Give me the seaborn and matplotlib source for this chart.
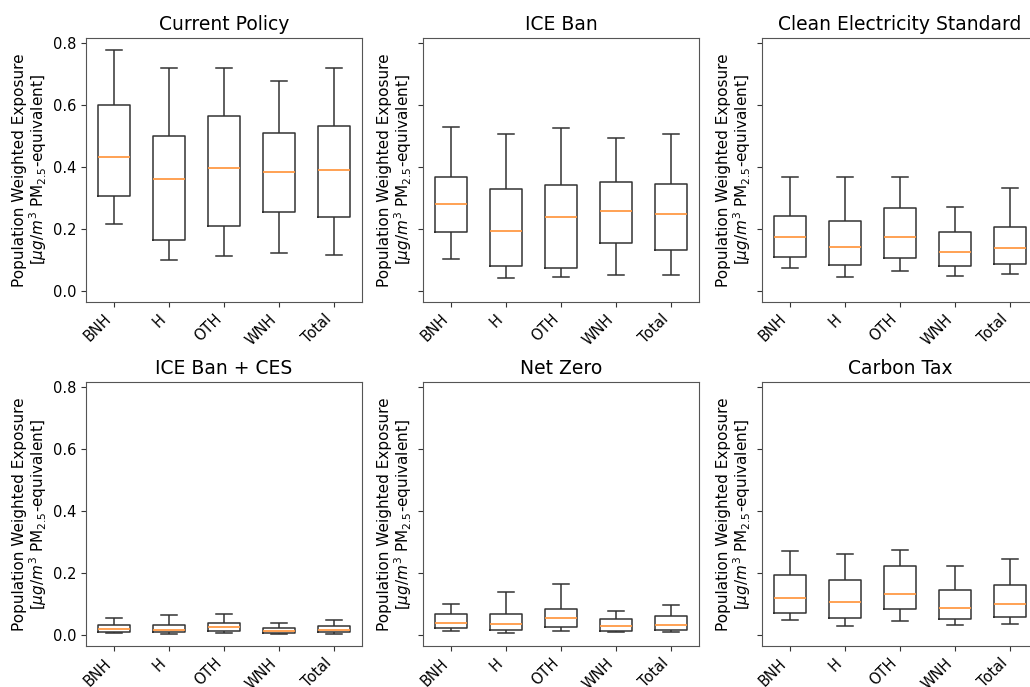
import numpy as np
import pandas as pd
import matplotlib
matplotlib.use("Agg")
import matplotlib.pyplot as plt
import seaborn as sns

# Population-group categories shown on every panel
groups = ["BNH", "H", "OTH", "WNH", "Total"]

# Policy scenarios, in panel order
scenarios = ["Current Policy", "ICE Ban", "Clean Electricity Standard",
             "ICE Ban + CES", "Net Zero", "Carbon Tax"]

# Box summary per scenario: rows follow `groups`, columns are min, q1, median, q3, max
current_policy = [
    [0.214, 0.306, 0.432, 0.600, 0.778],
    [0.100, 0.163, 0.361, 0.500, 0.719],
    [0.112, 0.210, 0.397, 0.565, 0.719],
    [0.122, 0.254, 0.383, 0.510, 0.676],
    [0.117, 0.238, 0.391, 0.532, 0.719],
]
ice_ban = [
    [0.103, 0.190, 0.279, 0.368, 0.529],
    [0.043, 0.080, 0.193, 0.328, 0.507],
    [0.044, 0.075, 0.237, 0.341, 0.524],
    [0.051, 0.155, 0.259, 0.351, 0.492],
    [0.050, 0.132, 0.248, 0.346, 0.507],
]
clean_electricity = [
    [0.074, 0.108, 0.175, 0.241, 0.366],
    [0.044, 0.085, 0.141, 0.226, 0.366],
    [0.063, 0.105, 0.175, 0.267, 0.366],
    [0.049, 0.079, 0.124, 0.191, 0.271],
    [0.054, 0.086, 0.138, 0.207, 0.331],
]
ice_ban_ces = [
    [0.006, 0.010, 0.021, 0.033, 0.055],
    [0.005, 0.010, 0.017, 0.033, 0.065],
    [0.006, 0.012, 0.026, 0.040, 0.067],
    [0.004, 0.007, 0.014, 0.023, 0.039],
    [0.005, 0.009, 0.017, 0.029, 0.049],
]
net_zero = [
    [0.014, 0.023, 0.040, 0.067, 0.100],
    [0.008, 0.018, 0.036, 0.069, 0.138],
    [0.014, 0.026, 0.056, 0.083, 0.164],
    [0.009, 0.014, 0.029, 0.053, 0.079],
    [0.010, 0.018, 0.033, 0.061, 0.097],
]
carbon_tax = [
    [0.049, 0.072, 0.120, 0.193, 0.272],
    [0.029, 0.055, 0.107, 0.178, 0.263],
    [0.046, 0.083, 0.134, 0.222, 0.275],
    [0.032, 0.053, 0.086, 0.145, 0.222],
    [0.035, 0.058, 0.099, 0.163, 0.245],
]

panel_values = [current_policy, ice_ban, clean_electricity,
                ice_ban_ces, net_zero, carbon_tax]

y_ticks = [0.0, 0.2, 0.4, 0.6, 0.8]
y_label = ("Population Weighted Exposure\n"
           r"[$\mu g/m^3$ PM$_{2.5}$-equivalent]")

fig = plt.figure(figsize=(10.30, 6.87), dpi=100)

# Panel placement (left, bottom, width, height) in figure fractions
col_left = [0.0835, 0.4107, 0.7398]
row_bottom = [0.5608, 0.0597]
ax_w, ax_h = 0.268, 0.3838

edge = "#333333"

axes = []
for i, (title, vals) in enumerate(zip(scenarios, panel_values)):
    r, c = divmod(i, 3)
    ax = fig.add_axes([col_left[c], row_bottom[r], ax_w, ax_h],
                      sharey=axes[0] if axes else None)
    axes.append(ax)

    # Five-number summaries expanded to points; whiskers span full range
    df = pd.DataFrame(
        [(g, v) for g, row in zip(groups, vals) for v in row],
        columns=["group", "value"],
    )
    sns.boxplot(data=df, x="group", y="value", order=groups, ax=ax,
                whis=(0, 100), width=0.58, fill=False, color=edge,
                linewidth=1.1, showfliers=False,
                medianprops={"color": "#ff9a45", "linewidth": 1.3})

    ax.set_title(title, fontsize=13.5)
    ax.set_xlabel("")
    ax.set_ylabel(y_label, fontsize=11, linespacing=1.0, labelpad=3)
    ax.set_xlim(-0.5, len(groups) - 0.5)
    ax.set_ylim(-0.035, 0.815)
    ax.set_yticks(y_ticks)
    ax.tick_params(axis="both", labelsize=10.5, color=edge)
    plt.setp(ax.get_xticklabels(), rotation=45, ha="right")
    if c != 0:
        ax.tick_params(axis="y", labelleft=False)
    for s in ax.spines.values():
        s.set_color("#555555")

fig.savefig("out.png", dpi=100)
